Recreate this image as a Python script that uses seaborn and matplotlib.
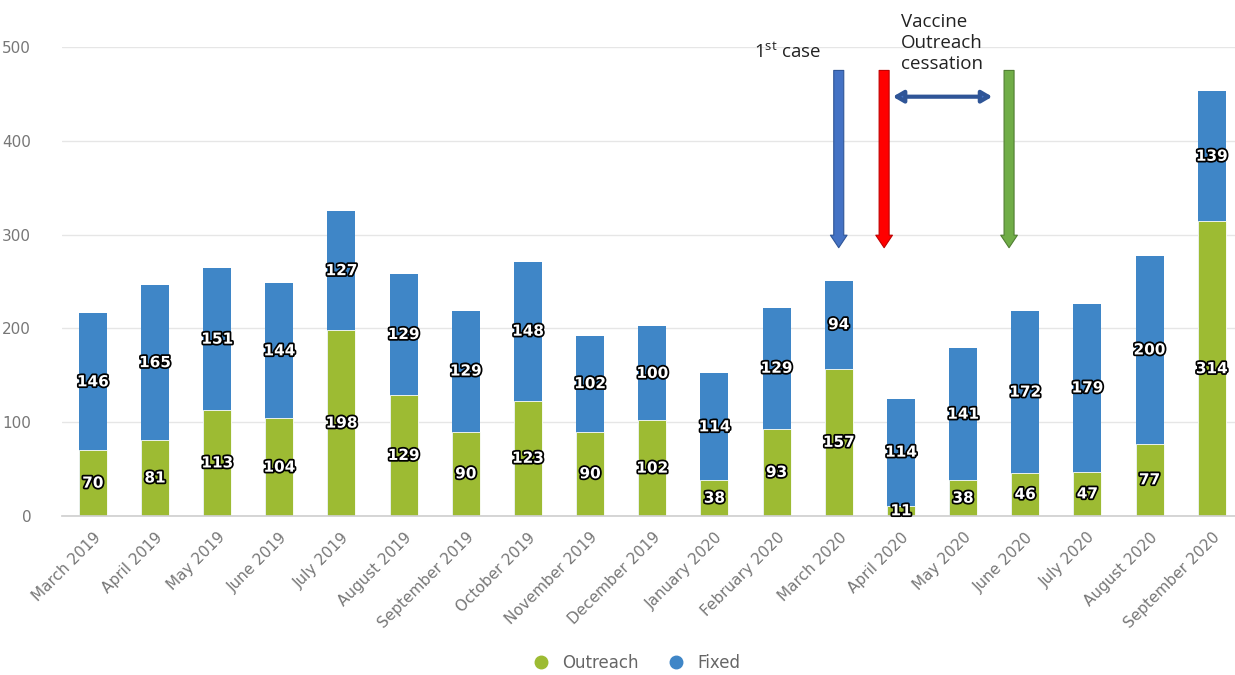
import numpy as np
import pandas as pd
import matplotlib
matplotlib.use("Agg")
import matplotlib.pyplot as plt
import matplotlib.patheffects as pe
from matplotlib.lines import Line2D
import seaborn as sns

months = ["March 2019", "April 2019", "May 2019", "June 2019", "July 2019",
          "August 2019", "September 2019", "October 2019", "November 2019",
          "December 2019", "January 2020", "February 2020", "March 2020",
          "April 2020", "May 2020", "June 2020", "July 2020", "August 2020",
          "September 2020"]
outreach = [70, 81, 113, 104, 198, 129, 90, 123, 90, 102, 38, 93, 157, 11, 38, 46, 47, 77, 314]
fixed = [146, 165, 151, 144, 127, 129, 129, 148, 102, 100, 114, 129, 94, 114, 141, 172, 179, 200, 139]

GREEN = "#9dbb33"
BLUE = "#3f86c7"

df = pd.DataFrame({"month": months, "Outreach": outreach, "Fixed": fixed})
df["total"] = df["Outreach"] + df["Fixed"]

sns.set_theme(style="white")
plt.rcParams["font.family"] = ["DejaVu Sans"]
plt.rcParams["mathtext.default"] = "regular"

fig = plt.figure(figsize=(12.35, 6.75), dpi=100)
# axes runs a little past the right edge, like the source
ax = fig.add_axes([0.050, 0.2356, 0.9563, 0.6948])

# stacked: total in blue underneath, outreach in green on top
sns.barplot(data=df, x="month", y="total", color=BLUE, width=0.45, ax=ax,
            saturation=1, edgecolor="none")
sns.barplot(data=df, x="month", y="Outreach", color=GREEN, width=0.45, ax=ax,
            saturation=1, edgecolor="white", linewidth=0.6)

stroke = [pe.withStroke(linewidth=2.5, foreground="black")]
for i, (o, f) in enumerate(zip(outreach, fixed)):
    ax.text(i, o / 2, str(o), ha="center", va="center", color="white",
            fontsize=11, fontweight="bold", path_effects=stroke)
    ax.text(i, o + f / 2, str(f), ha="center", va="center", color="white",
            fontsize=11, fontweight="bold", path_effects=stroke)

ax.set_xlim(-0.5, 18.5)
ax.set_ylim(0, 500)
ax.set_yticks([0, 100, 200, 300, 400, 500])
ax.yaxis.grid(True, color="#e6e6e6", linewidth=1)
ax.set_axisbelow(True)
ax.set_xlabel("")
ax.set_ylabel("")
for s in ["top", "right", "left"]:
    ax.spines[s].set_visible(False)
ax.spines["bottom"].set_color("#d0d0d0")
ax.tick_params(axis="y", length=0, pad=22, labelsize=11, labelcolor="#777777")
ax.set_xticks(range(len(months)))
ax.set_xticklabels(months, rotation=45, ha="right", rotation_mode="anchor",
                   fontsize=11, color="#777777")
ax.tick_params(axis="x", which="major", length=0, pad=10)
ax.set_xticks(np.arange(-0.5, 18.6, 1), minor=True)
ax.tick_params(axis="x", which="minor", length=8, color="#d0d0d0", width=1)

# event arrows
arrows = [(12.0, "#4472c4", "#2f5597"), (12.73, "#ff0000", "#c00000"),
          (14.74, "#70ad47", "#507e32")]
for x, fc, ec in arrows:
    ax.annotate("", xy=(x, 286), xytext=(x, 475), annotation_clip=False,
                arrowprops=dict(arrowstyle="simple,head_length=0.75,head_width=1.0,tail_width=0.6",
                                fc=fc, ec=ec, lw=0.8, mutation_scale=12,
                                shrinkA=0, shrinkB=0))
ax.annotate("", xy=(12.87, 447), xytext=(14.47, 447), annotation_clip=False,
            arrowprops=dict(arrowstyle="<|-|>,head_length=0.6,head_width=0.35",
                            fc="#4472c4", ec="#2f5597", lw=3, mutation_scale=10,
                            shrinkA=0, shrinkB=0))

ax.text(11.17, 495, "1$^{st}$ case", ha="center", va="center", fontsize=13.5,
        family=["Open Sans", "DejaVu Sans"], color="#222222", clip_on=False)
ax.text(13.0, 504, "Vaccine\nOutreach\ncessation", ha="left", va="center",
        fontsize=13.5, linespacing=1.2, family=["Open Sans", "DejaVu Sans"],
        color="#222222", clip_on=False)

handles = [Line2D([], [], marker="o", linestyle="", markersize=9, color=GREEN),
           Line2D([], [], marker="o", linestyle="", markersize=9, color=BLUE)]
leg = fig.legend(handles, ["Outreach", "Fixed"], loc="center", ncol=2,
                 bbox_to_anchor=(0.512, 0.018), frameon=False, fontsize=12,
                 handletextpad=0.3, columnspacing=1.2)
for t in leg.get_texts():
    t.set_color("#666666")

fig.savefig("out.png", dpi=100)
